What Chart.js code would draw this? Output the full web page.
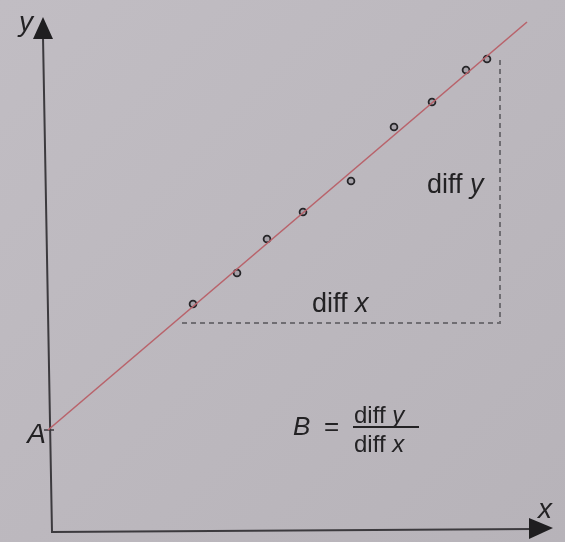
<!DOCTYPE html>
<html>
<head>
<meta charset="utf-8">
<script src="https://cdn.jsdelivr.net/npm/chart.js@4.4.1/dist/chart.umd.min.js"></script>
<style>
  html, body { margin: 0; padding: 0; background: #bdb9bf; }
  #wrap { width: 565px; height: 542px; }
</style>
</head>
<body>
<div id="wrap"><canvas id="slopeChart"></canvas></div>
<script>
// Measured points
const pointX = [2.90, 3.78, 4.38, 5.10, 6.06, 6.92, 7.68, 8.36, 8.78];
const pointY = [4.54, 5.16, 5.84, 6.38, 7.00, 8.08, 8.58, 9.22, 9.44];

// Fitted straight line (intercept A, slope B)
const fitX = [0, 9.58];
const fitY = [2.02, 10.18];

// diff x / diff y triangle
const triX = [2.68, 9.04, 9.04];
const triY = [4.16, 4.16, 9.48];

// Axis ranges (no ticks are shown)
const xRange = [0, 10.1];
const yRange = [0, 10.28];

const INK = "#232224";
const FONT = "'Liberation Sans', Arial, sans-serif";

function toPoints(xs, ys) {
  return xs.map((x, i) => ({ x: x, y: ys[i] }));
}

// Draw "diff " upright followed by an italic letter
function drawMixed(ctx, parts, x, y, size) {
  let cx = x;
  parts.forEach((p) => {
    ctx.font = (p.italic ? "italic " : "") + size + "px " + FONT;
    ctx.fillText(p.text, cx, y);
    cx += ctx.measureText(p.text).width;
  });
}

const paperPlugin = {
  id: "paper",
  beforeDraw(chart) {
    const { ctx, width, height } = chart;
    const g = ctx.createLinearGradient(0, 0, width, height);
    g.addColorStop(0, "#c1bdc3");
    g.addColorStop(1, "#b7b3b9");
    ctx.save();
    ctx.fillStyle = g;
    ctx.fillRect(0, 0, width, height);
    ctx.restore();
  },
  beforeDatasetsDraw(chart) {
    const { ctx, chartArea } = chart;
    const x0 = chartArea.left, y0 = chartArea.bottom;
    ctx.save();
    ctx.strokeStyle = "#3c3a3e";
    ctx.lineWidth = 2;
    // axes (slightly tilted like the printed page)
    ctx.beginPath();
    ctx.moveTo(x0 - 5, chartArea.top + 20);
    ctx.lineTo(x0 + 4, y0 + 1);
    ctx.lineTo(chartArea.right - 20, y0 - 2);
    ctx.stroke();
    // arrowheads
    ctx.fillStyle = "#1f1e20";
    ctx.beginPath();
    ctx.moveTo(x0 - 5, chartArea.top);
    ctx.lineTo(x0 - 15, chartArea.top + 22);
    ctx.lineTo(x0 + 5, chartArea.top + 22);
    ctx.closePath();
    ctx.fill();
    ctx.beginPath();
    ctx.moveTo(chartArea.right, y0 - 3);
    ctx.lineTo(chartArea.right - 24, y0 - 13);
    ctx.lineTo(chartArea.right - 24, y0 + 8);
    ctx.closePath();
    ctx.fill();
    // tick at A
    const yA = chart.scales.y.getPixelForValue(fitY[0]);
    ctx.lineWidth = 1.5;
    ctx.beginPath();
    ctx.moveTo(x0 - 4, yA);
    ctx.lineTo(x0 + 6, yA);
    ctx.stroke();
    ctx.restore();
  },
  afterDatasetsDraw(chart) {
    const { ctx } = chart;
    const sx = chart.scales.x, sy = chart.scales.y;
    const px = (v) => sx.getPixelForValue(v);
    const py = (v) => sy.getPixelForValue(v);
    ctx.save();
    ctx.fillStyle = INK;
    ctx.textBaseline = "alphabetic";

    // axis names
    ctx.font = "italic 28px " + FONT;
    ctx.textAlign = "center";
    ctx.fillText("y", px(-0.44), py(10.0));
    ctx.fillText("x", px(9.94), py(0.26));
    ctx.textAlign = "right";
    ctx.fillText("A", px(-0.04), py(1.76));

    // triangle labels
    ctx.textAlign = "left";
    drawMixed(ctx, [{ text: "diff " }, { text: "x", italic: true }], px(5.28), py(4.38), 27);
    drawMixed(ctx, [{ text: "diff " }, { text: "y", italic: true }], px(7.58), py(6.76), 27);

    // B = diff y / diff x
    ctx.font = "italic 26px " + FONT;
    ctx.fillText("B", px(4.9), py(1.92));
    ctx.font = "26px " + FONT;
    ctx.fillText("=", px(5.52), py(1.92));
    drawMixed(ctx, [{ text: "diff " }, { text: "y", italic: true }], px(6.12), py(2.16), 24);
    drawMixed(ctx, [{ text: "diff " }, { text: "x", italic: true }], px(6.12), py(1.58), 24);
    ctx.strokeStyle = INK;
    ctx.lineWidth = 2;
    ctx.beginPath();
    ctx.moveTo(px(6.1), py(2.08));
    ctx.lineTo(px(7.42), py(2.08));
    ctx.stroke();
    ctx.restore();
  }
};

new Chart(document.getElementById("slopeChart"), {
  type: "scatter",
  data: {
    datasets: [
      {
        label: "triangle",
        type: "line",
        data: toPoints(triX, triY),
        borderColor: "#6f6d72",
        borderWidth: 2,
        borderDash: [5, 4],
        pointRadius: 0,
        fill: false,
        clip: false
      },
      {
        label: "fit",
        type: "line",
        data: toPoints(fitX, fitY),
        borderColor: "#b9636b",
        borderWidth: 1.6,
        pointRadius: 0,
        fill: false,
        clip: false
      },
      {
        label: "points",
        data: toPoints(pointX, pointY),
        pointRadius: 3.4,
        pointBorderWidth: 1.8,
        borderColor: "#262528",
        backgroundColor: "#a6a2a9",
        clip: false
      }
    ]
  },
  options: {
    responsive: true,
    maintainAspectRatio: false,
    animation: false,
    layout: { padding: { left: 48, right: 12, top: 17, bottom: 11 } },
    plugins: { legend: { display: false }, tooltip: { enabled: false } },
    scales: {
      x: { type: "linear", min: xRange[0], max: xRange[1], display: false },
      y: { type: "linear", min: yRange[0], max: yRange[1], display: false }
    }
  },
  plugins: [paperPlugin]
});
</script>
</body>
</html>
